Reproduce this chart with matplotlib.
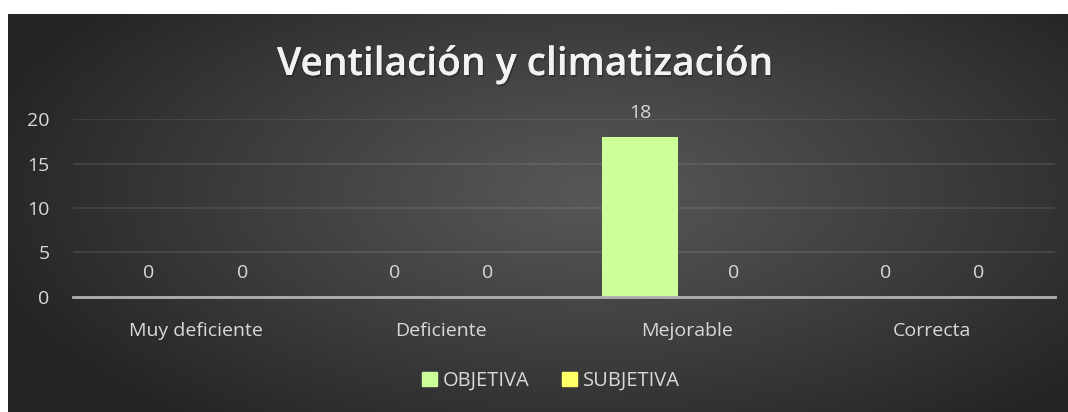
import numpy as np
import matplotlib
matplotlib.use("Agg")
import matplotlib.pyplot as plt
from matplotlib.patches import Rectangle
import matplotlib.patheffects as pe

categories = ["Muy deficiente", "Deficiente", "Mejorable", "Correcta"]
objetiva = [0, 0, 18, 0]
subjetiva = [0, 0, 0, 0]
series_names = ["OBJETIVA", "SUBJETIVA"]
yticks = [0, 5, 10, 15, 20]
title = "Ventilación y climatización"

W, H = 1068, 412
fig = plt.figure(figsize=(W / 100, H / 100), dpi=100)
fig.patch.set_facecolor("white")

# background with radial gradient
bg = fig.add_axes([8 / W, 0, 1 - 8 / W, 1 - 14 / H])
bg.set_axis_off()
nx, ny = 400, 160
xx, yy = np.meshgrid(np.linspace(-1, 1, nx), np.linspace(-1, 1, ny))
xx = xx - 0.1
yy = yy + 0.1
r = np.sqrt(xx ** 2 + (yy * 0.8) ** 2) / np.sqrt(2)
lo, hi = 0x25, 0x57
val = hi - (hi - lo) * np.clip(r * 1.2, 0, 1) ** 1.1
img = np.dstack([val, val, val]) / 255.0
bg.imshow(img, aspect="auto", extent=[0, 1, 0, 1], interpolation="bilinear")
bg.set_xlim(0, 1)
bg.set_ylim(0, 1)

txt = "#d9d9d9"
font = "Open Sans"
fs = 14

ax_l, ax_r = 73, 1055
ax_t, ax_b = 119.3, 296.5
ax = fig.add_axes([ax_l / W, 1 - ax_b / H, (ax_r - ax_l) / W, (ax_b - ax_t) / H])
ax.set_facecolor("none")
ax.set_xlim(-0.5, len(categories) - 0.5)
ax.set_ylim(0, 20)

x = np.arange(len(categories))
bw = 0.31
off = 0.19
b1 = ax.bar(x - off, objetiva, bw, color="#ccff99", zorder=3)
b2 = ax.bar(x + off, subjetiva, bw, color="#ffff66", zorder=3)

for bars, vals in ((b1, objetiva), (b2, subjetiva)):
    for rect, v in zip(bars, vals):
        ax.annotate(str(v), (rect.get_x() + rect.get_width() / 2, v), xytext=(0, 24),
                    textcoords="offset pixels", ha="center", va="center",
                    color=txt, fontsize=fs, family=font)

ax.set_yticks(yticks)
ax.set_yticklabels([str(t) for t in yticks], color=txt, fontsize=fs, family=font)
ax.set_xticks(x)
ax.set_xticklabels(categories, color=txt, fontsize=fs, family=font)
ax.tick_params(axis="both", length=0)
ax.tick_params(axis="y", pad=17)
ax.tick_params(axis="x", pad=18)
ax.grid(axis="y", color="white", alpha=0.09, linewidth=1.5, zorder=0)
ax.set_axisbelow(True)
for s in ["top", "right", "left"]:
    ax.spines[s].set_visible(False)
ax.spines["bottom"].set_color("#b0b0b0")
ax.spines["bottom"].set_linewidth(2)
ax.spines["bottom"].set_zorder(4)

t = fig.text(525 / W, 1 - 75 / H, title, ha="center", va="baseline", color="#f2f2f2",
             fontsize=28, fontweight="semibold", family=font)
t.set_path_effects([pe.withSimplePatchShadow(offset=(1, -1.5), shadow_rgbFace="black", alpha=0.25),
                    pe.Normal()])

# legend
handles = [Rectangle((0, 0), 1, 1, color="#ccff99"), Rectangle((0, 0), 1, 1, color="#ffff66")]
leg = fig.legend(handles, series_names, loc="center", bbox_to_anchor=(551 / W, 1 - 381 / H),
                 ncol=2, frameon=False, handlelength=0.75, handleheight=0.75,
                 handletextpad=0.3, columnspacing=1.6,
                 prop={"family": font, "size": 14.5})
for tx in leg.get_texts():
    tx.set_color(txt)

fig.savefig("out.png", dpi=100, facecolor=fig.get_facecolor())
